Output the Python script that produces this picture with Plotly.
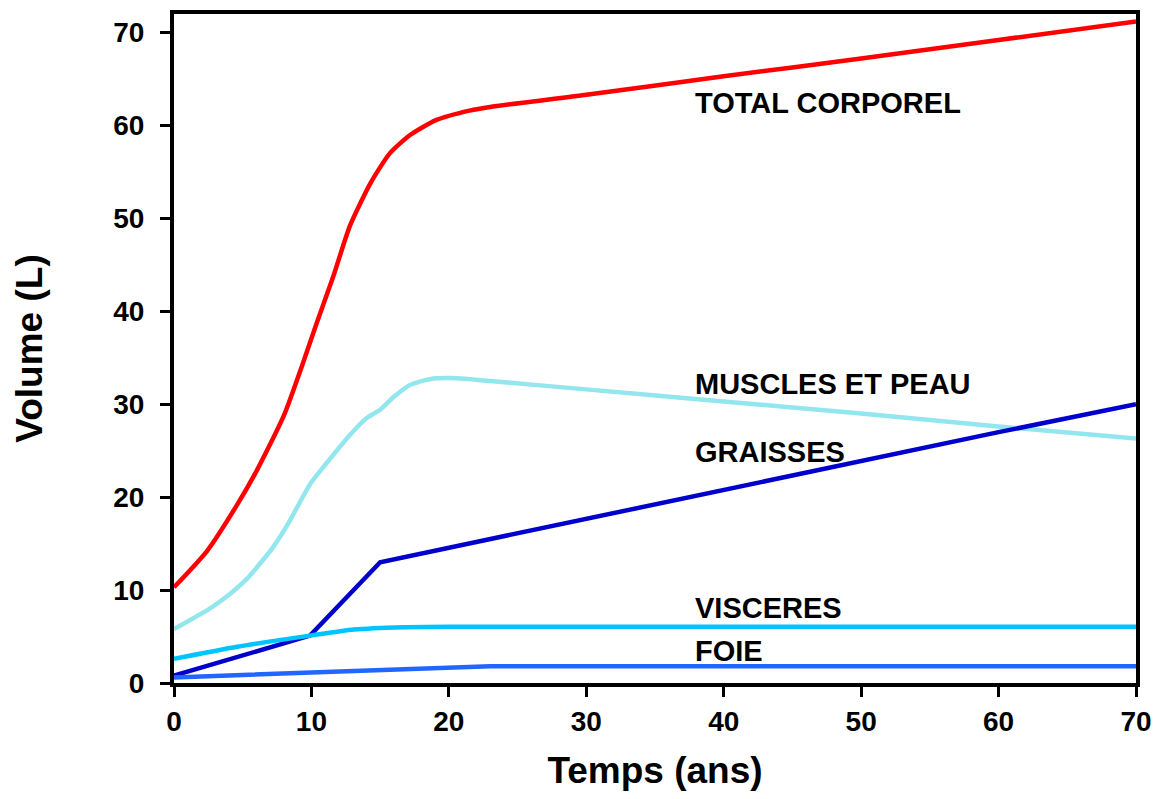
import plotly.graph_objects as go

# ---- data ----
t_total = [0, 2.4, 4.6, 6.0, 8.0, 9.4, 10.4, 11.6, 12.8, 14.3, 15.7, 17.2, 19.1, 21.5, 23.0, 30, 40, 50, 60, 70]
v_total = [10.3, 14.2, 19.2, 22.8, 28.8, 34.5, 38.8, 43.8, 49.2, 53.8, 57.0, 59.0, 60.6, 61.6, 62.0, 63.3, 65.3, 67.2, 69.2, 71.2]

t_muscles = [0, 2.6, 4.0, 5.3, 7.2, 8.4, 9.9, 10.9, 12.8, 14.0, 15.0, 16.0, 17.2, 18.6, 20.6, 23.0, 30, 40, 50, 60, 70]
v_muscles = [5.8, 8.0, 9.5, 11.2, 14.6, 17.4, 21.4, 23.3, 26.7, 28.5, 29.4, 30.8, 32.1, 32.7, 32.8, 32.5, 31.6, 30.3, 29.0, 27.6, 26.3]

t_graisses = [0, 4.6, 9.9, 15.0, 23.0, 40, 60, 70]
v_graisses = [0.8, 2.8, 5.1, 13.0, 15.5, 20.8, 27.0, 30.0]

t_visceres = [0, 4.6, 9.9, 13.1, 16.7, 20, 30, 40, 50, 60, 70]
v_visceres = [2.6, 3.9, 5.1, 5.75, 6.0, 6.05, 6.05, 6.05, 6.05, 6.05, 6.05]

t_foie = [0, 5, 10, 15, 20, 23, 30, 40, 50, 60, 70]
v_foie = [0.6, 0.85, 1.1, 1.4, 1.7, 1.8, 1.8, 1.8, 1.8, 1.8, 1.8]

labels = ["TOTAL CORPOREL", "MUSCLES ET PEAU", "GRAISSES", "VISCERES", "FOIE"]
label_x = [37.8, 37.8, 37.8, 37.8, 37.8]
label_y = [62.4, 32.2, 24.9, 8.1, 3.4]

x_ticks = [0, 10, 20, 30, 40, 50, 60, 70]
y_ticks = [0, 10, 20, 30, 40, 50, 60, 70]

FONT = "Liberation Sans, Arial, sans-serif"

fig = go.Figure()
series = [
    (t_total, v_total, "#FF0000", "TOTAL CORPOREL", "spline"),
    (t_muscles, v_muscles, "#92E6EE", "MUSCLES ET PEAU", "spline"),
    (t_graisses, v_graisses, "#0000CC", "GRAISSES", "linear"),
    (t_visceres, v_visceres, "#00C4FF", "VISCERES", "spline"),
    (t_foie, v_foie, "#2266FF", "FOIE", "linear"),
]
for tx, vy, col, name, shp in series:
    line = dict(color=col, width=4.5, shape=shp)
    if shp == "spline":
        line["smoothing"] = 0.6
    fig.add_trace(go.Scatter(x=tx, y=vy, mode="lines", name=name, line=line))

for txt, lx, ly in zip(labels, label_x, label_y):
    fig.add_annotation(x=lx, y=ly, text=txt, showarrow=False, xanchor="left", yanchor="middle",
                       font=dict(family=FONT, size=29, color="black", weight="bold"))

axis_common = dict(showline=True, linecolor="black", linewidth=4, mirror=True,
                   ticks="outside", ticklen=10, tickwidth=3, tickcolor="black",
                   showgrid=False, zeroline=False,
                   tickfont=dict(family=FONT, size=28, color="black", weight="bold"))

fig.update_xaxes(range=[0, 70], tickvals=x_ticks, ticktext=[str(v) for v in x_ticks],
                 title=dict(text="Temps (ans)", standoff=27,
                            font=dict(family=FONT, size=37, color="black", weight="bold")),
                 **axis_common)
fig.update_yaxes(range=[0, 72], tickvals=y_ticks, ticktext=[str(v) for v in y_ticks],
                 ticklabelstandoff=10,
                 title=dict(text="Volume (L)", standoff=60,
                            font=dict(family=FONT, size=37, color="black", weight="bold")),
                 **axis_common)

fig.update_layout(width=1146, height=783, showlegend=False,
                  plot_bgcolor="white", paper_bgcolor="white",
                  margin=dict(l=166, r=18, t=2, b=108))

fig.write_html("out.html")
